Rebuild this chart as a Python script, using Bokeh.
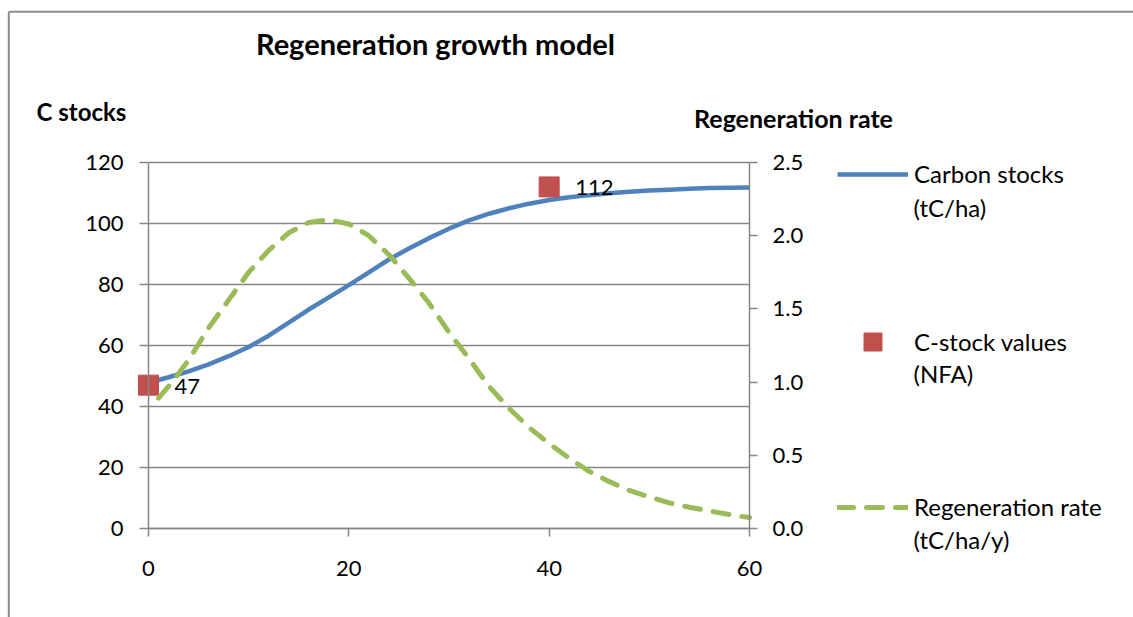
from bokeh.plotting import figure
from bokeh.models import (Range1d, LinearAxis, FixedTicker, Legend, LegendItem,
                          Label, ColumnDataSource, NumeralTickFormatter)
from bokeh.core.properties import value
from bokeh.embed import file_html
from bokeh.resources import INLINE

# ---------------- data ----------------
years_c = [0, 2, 4, 6, 8, 10, 12, 14, 16, 18, 20, 22, 24, 26, 28, 30,
           32, 34, 36, 38, 40, 42, 44, 46, 48, 50, 52, 54, 56, 58, 60]
carbon_stocks = [47.8, 49.6, 51.5, 53.8, 56.5, 59.5, 63.2, 67.5, 71.8, 75.8, 79.8,
                 84.0, 88.2, 91.8, 95.2, 98.3, 101.0, 103.2, 105.0, 106.5, 107.7,
                 108.6, 109.3, 109.9, 110.4, 110.8, 111.1, 111.4, 111.6, 111.7, 111.8]

years_r = [1, 2, 4, 6, 8, 10, 12, 14, 16, 18, 20, 22, 24, 26, 28, 30,
           32, 34, 36, 38, 40, 42, 44, 46, 48, 50, 52, 54, 56, 58, 60]
regen_rate = [0.89, 0.97, 1.15, 1.37, 1.56, 1.75, 1.90, 2.02, 2.09, 2.11, 2.08,
              2.00, 1.87, 1.71, 1.54, 1.34, 1.16, 0.97, 0.82, 0.69, 0.58,
              0.48, 0.39, 0.32, 0.26, 0.215, 0.175, 0.145, 0.12, 0.095, 0.075]

nfa_years = [0, 40]
nfa_values = [47, 112]
nfa_labels = ["47", "112"]

x_ticks = [0, 20, 40, 60]
left_ticks = [0, 20, 40, 60, 80, 100, 120]
right_ticks = [0.0, 0.5, 1.0, 1.5, 2.0, 2.5]

# ---------------- styling ----------------
FONT = "Lato"
GRID = "#868686"
BORDER = "#8c8c8c"
BLUE = "#4f81bd"
RED = "#c0504d"
GREEN = "#9bbb59"

W, H = 1133, 617
# plot area in canvas pixels
FL, FR, FT, FB = 148.0, 749.0, 162.0, 528.0
XS = (FR - FL) / 60.0
YS = (FB - FT) / 120.0
def dx(px):
    return (px - FL) / XS
def dy(py):
    return (FB - py) / YS

p = figure(width=W, height=H,
           x_range=Range1d(dx(0), dx(W)), y_range=Range1d(dy(H), dy(0)),
           x_axis_type=None, y_axis_type=None,
           output_backend="svg", toolbar_location=None,
           min_border=0, min_border_left=0, min_border_right=0,
           min_border_top=0, min_border_bottom=0)
p.outline_line_color = None
p.background_fill_color = "white"
p.border_fill_color = "white"
p.extra_y_ranges = {"rate": Range1d(dy(H) * 2.5 / 120.0, dy(0) * 2.5 / 120.0)}

# chart border (top and left)
p.segment(x0=[dx(8.3), dx(8.3)], y0=[dy(11.3), dy(11.3)],
          x1=[dx(8.3), dx(W + 5)], y1=[dy(H + 5), dy(11.3)],
          line_color=BORDER, line_width=2)

# horizontal gridlines
p.segment(x0=[0] * len(left_ticks), x1=[60] * len(left_ticks),
          y0=left_ticks, y1=left_ticks, line_color=GRID, line_width=1.5)

# axes at fixed locations
xa = LinearAxis(fixed_location=0, bounds=(0, 60), ticker=FixedTicker(ticks=x_ticks))
ya = LinearAxis(fixed_location=0, bounds=(0, 120), ticker=FixedTicker(ticks=left_ticks))
ra = LinearAxis(y_range_name="rate", fixed_location=60, bounds=(0, 2.5),
                ticker=FixedTicker(ticks=right_ticks),
                formatter=NumeralTickFormatter(format="0.0"))
p.add_layout(xa, "below")
p.add_layout(ya, "left")
p.add_layout(ra, "right")

for ax in (xa, ya, ra):
    ax.axis_line_color = GRID
    ax.axis_line_width = 1.5
    ax.major_tick_line_color = GRID
    ax.major_tick_line_width = 1.5
    ax.major_tick_in = 0
    ax.major_tick_out = 8
    ax.minor_tick_line_color = None
    ax.major_label_text_font = FONT
    ax.major_label_text_font_size = "22px"
    ax.major_label_text_color = "black"
xa.major_label_standoff = 24
ya.major_label_standoff = 16
ra.major_label_standoff = 15
ya.major_tick_out = 9

# series
blue = p.line(years_c, carbon_stocks, line_color=BLUE, line_width=4.5)
src = ColumnDataSource(dict(x=nfa_years, y=nfa_values, t=nfa_labels))
sq = p.scatter("x", "y", source=src, marker="square", size=20,
               fill_color=RED, line_color=RED)
green = p.line(years_r, regen_rate, y_range_name="rate", line_color=GREEN,
               line_width=5, line_dash="16 13", line_cap="round")
p.text("x", "y", text="t", source=src, x_offset=26, y_offset=1,
       text_baseline="middle", text_align="left", text_font=value(FONT),
       text_font_size=value("22px"), text_color="black")

# legend: one Legend per entry so each sits where the reference puts it
def add_legend(label, rend, center_y, item_h=28):
    lg = Legend(items=[LegendItem(label=label, renderers=[rend])],
                location=(837, H - (center_y + item_h / 2.0)),
                glyph_width=71, glyph_height=item_h, label_height=item_h,
                padding=0, margin=0, label_standoff=6,
                border_line_color=None, background_fill_alpha=0,
                label_text_font=FONT, label_text_font_size="24px",
                label_text_color="black", label_text_baseline="middle")
    p.add_layout(lg, "center")

add_legend("Carbon stocks", blue, 174)
add_legend("C-stock values", sq, 341, item_h=45)
add_legend("Regeneration rate", green, 507)

def txt(s, px, py, size="24px", bold=False, align="left"):
    p.add_layout(Label(x=dx(px), y=dy(py), text=s, text_font=FONT,
                       text_font_size=size, text_align=align,
                       text_baseline="middle", text_color="black",
                       text_font_style="bold" if bold else "normal"))

# second lines of legend labels
txt("(tC/ha)", 913, 207)
txt("(NFA)", 913, 373)
txt("(tC/ha/y)", 913, 539)

# titles
txt("Regeneration growth model", 435, 43, size="29px", bold=True, align="center")
txt("C stocks", 81, 111, size="24px", bold=True, align="center")
txt("Regeneration rate", 793, 117, size="25px", bold=True, align="center")

open("out.html", "w").write(file_html(p, INLINE))
